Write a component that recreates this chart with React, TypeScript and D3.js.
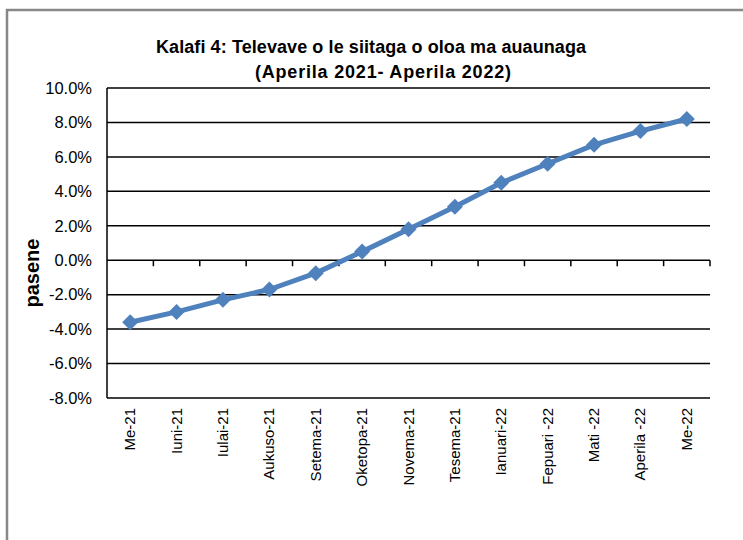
import * as d3 from 'd3';
import React from 'react';

const months = [
	'Me-21',
	'Iuni-21',
	'Iulai-21',
	'Aukuso-21',
	'Setema-21',
	'Oketopa-21',
	'Novema-21',
	'Tesema-21',
	'Ianuari-22',
	'Fepuari -22',
	'Mati -22',
	'Aperila -22',
	'Me-22',
];
const values = [-3.6, -3.0, -2.3, -1.7, -0.75, 0.5, 1.8, 3.1, 4.5, 5.6, 6.7, 7.5, 8.2];
const yTicks = [10, 8, 6, 4, 2, 0, -2, -4, -6, -8];
const titleLines = ['Kalafi 4: Televave o le siitaga o oloa ma auaunaga', '(Aperila 2021- Aperila 2022)'];

const font = '"Liberation Sans", Arial, sans-serif';

function App() {
	// Measurements
	const W = 743;
	const H = 540;
	const margin = { top: 88, right: 33, bottom: 142, left: 107 };

	// Scales
	const xscale = d3
		.scaleBand()
		.domain(months)
		.range([margin.left, W - margin.right])
		.padding(0);

	const yscale = d3
		.scaleLinear()
		.domain([-8, 10])
		.range([H - margin.bottom, margin.top]);

	const line = d3
		.line<number>()
		.x((d, i) => xscale(months[i])! + xscale.bandwidth() / 2)
		.y((d) => yscale(d));

	const y0 = yscale(0);
	const boundaries = months.map((m) => xscale(m)! + xscale.bandwidth());
	const dm = 8;

	return (
		<svg
			width={W}
			height={H}
			style={{ position: 'absolute', left: 0, top: 0, background: '#fff' }}
		>
			<rect x={7} y={10} width={W} height={H} fill="#fff" stroke="#888" strokeWidth={2.5} />

			{/* Title */}
			{titleLines.map((t, i) => (
				<text
					key={t}
					x={i === 0 ? 371 : 383}
					y={53 + i * 25}
					textAnchor="middle"
					fontFamily={font}
					fontWeight="bold"
					fontSize={18}
					textLength={i === 0 ? 430 : 256}
					fill="#000"
				>
					{t}
				</text>
			))}

			{/* Gridlines + y labels */}
			{yTicks.map((t) => (
				<g key={t}>
					<line
						x1={margin.left}
						x2={W - margin.right}
						y1={yscale(t)}
						y2={yscale(t)}
						stroke="#000"
						strokeWidth={1.5}
					/>
					<text
						x={92}
						y={yscale(t)}
						dy="0.35em"
						textAnchor="end"
						fontFamily={font}
						fontSize={16.5}
						fill="#000"
					>
						{t.toFixed(1) + '%'}
					</text>
				</g>
			))}

			{/* Y axis */}
			<line
				x1={margin.left}
				x2={margin.left}
				y1={yscale(10)}
				y2={yscale(-8)}
				stroke="#000"
				strokeWidth={1.5}
			/>

			{/* tick marks on zero line */}
			{boundaries.map((b, i) => (
				<line key={i} x1={b} x2={b} y1={y0} y2={y0 + 6} stroke="#000" strokeWidth={1.5} />
			))}

			<text
				transform={`translate(39, 273) rotate(-90)`}
				textAnchor="middle"
				fontFamily={font}
				fontWeight="bold"
				fontSize={20}
				fill="#000"
			>
				pasene
			</text>

			{/* x labels */}
			{months.map((m) => (
				<text
					key={m}
					transform={`translate(${xscale(m)! + xscale.bandwidth() / 2 + 5}, ${yscale(-8) + 10}) rotate(-90)`}
					textAnchor="end"
					fontFamily={font}
					fontSize={15}
					fill="#000"
				>
					{m}
				</text>
			))}

			{/* Line */}
			<path d={line(values) || ''} fill="none" stroke="#4F81BD" strokeWidth={5} strokeLinejoin="round" />
			{values.map((v, i) => {
				const cx = xscale(months[i])! + xscale.bandwidth() / 2;
				const cy = yscale(v);
				return (
					<path
						key={i}
						d={`M${cx},${cy - dm}L${cx + dm},${cy}L${cx},${cy + dm}L${cx - dm},${cy}Z`}
						fill="#4F81BD"
					/>
				);
			})}
		</svg>
	);
}

export default App;
